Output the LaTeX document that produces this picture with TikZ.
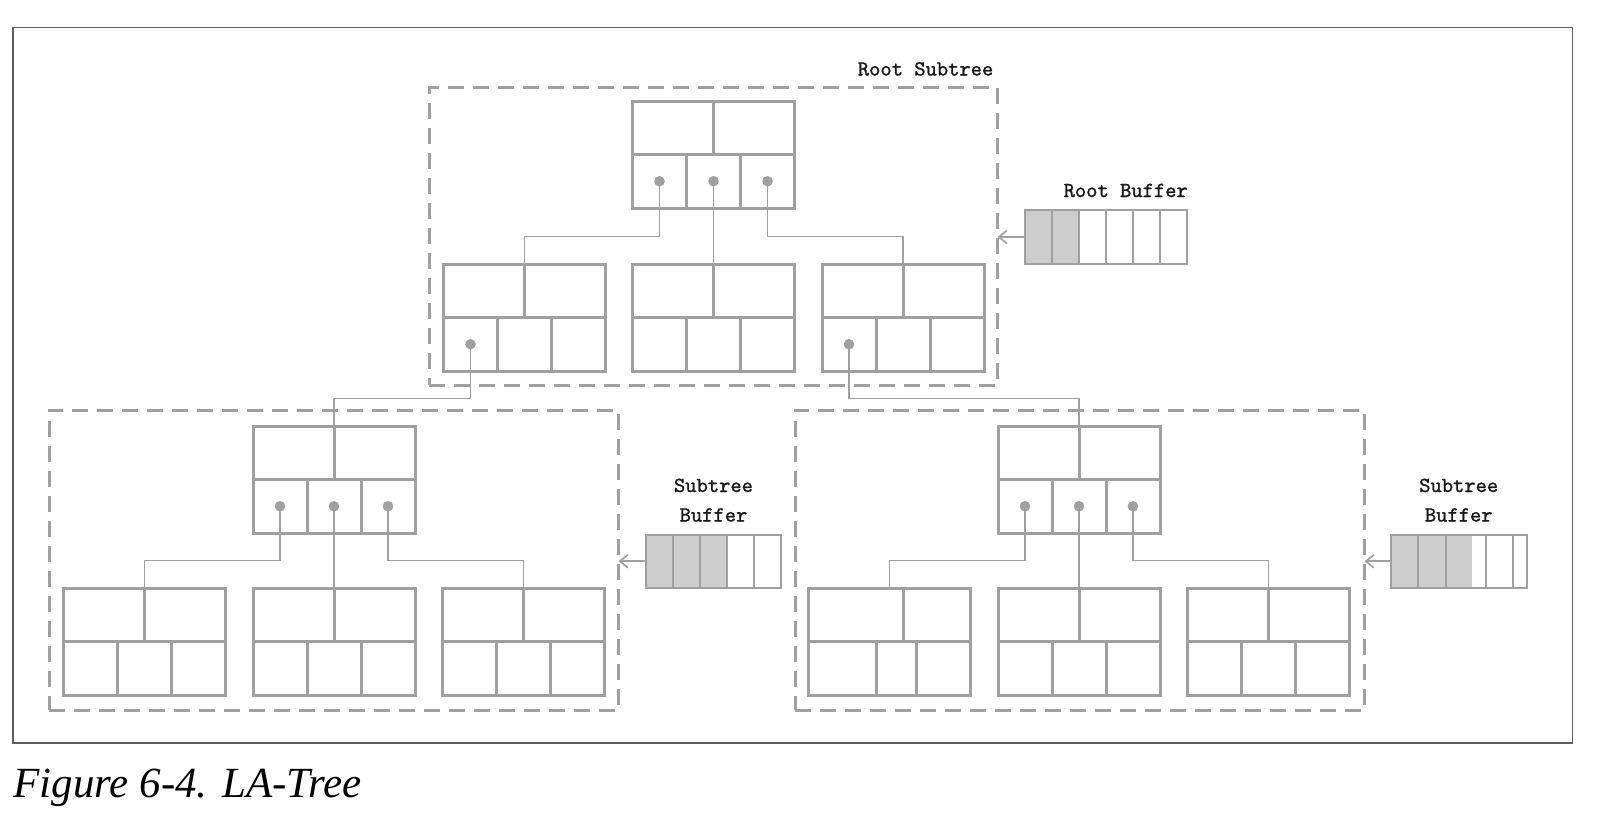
\documentclass[tikz,border=0pt]{standalone}
\usepackage{fontspec}
\newfontfamily\capfont{Liberation Serif}
\newfontfamily\lbltt{lmmono10-regular.otf}[FakeBold=1.1]
\usetikzlibrary{calc,arrows.meta}
\definecolor{lg}{RGB}{160,160,160}
\definecolor{bufgray}{RGB}{205,205,205}
\definecolor{framecol}{RGB}{95,95,95}
\definecolor{txt}{RGB}{25,25,25}
% B-tree node: name, x, y (top-left), top divider offset, bottom divider offsets
\newcommand\btnode[6]{%
  \node[bnode] (#1) at (#2,#3) {};
  \draw[bline] (#1.west) -- (#1.east);
  \draw[bline] ($(#1.north west)+(#4,0)$) -- ($(#1.west)+(#4,0)$);
  \draw[bline] ($(#1.west)+(#5,0)$) -- ($(#1.south west)+(#5,0)$);
  \draw[bline] ($(#1.west)+(#6,0)$) -- ($(#1.south west)+(#6,0)$);
  \coordinate (#1-p1) at ($(#1.south west)+(27,-26.75)$);
  \coordinate (#1-p2) at ($(#1.south west)+(81,-26.75)$);
  \coordinate (#1-p3) at ($(#1.south west)+(135,-26.75)$);
}
\begin{document}
\begin{tikzpicture}[x=1pt,y=-1pt,
  bnode/.style={draw=lg, line width=3pt, minimum width=162pt, minimum height=107pt,
    inner sep=0pt, outer sep=0pt, anchor=north west},
  bline/.style={draw=lg, line width=3pt},
  conn/.style={draw=lg, line width=1.7pt},
  dbox/.style={draw=lg, line width=3pt, dash pattern=on 16pt off 9pt,
    inner sep=0pt, outer sep=0pt, anchor=north west},
  bufn/.style={inner sep=0pt, outer sep=0pt, anchor=north west},
  bufline/.style={draw=lg, line width=2pt},
  arr/.style={draw=lg, line width=1.7pt, -{Straight Barb[length=8pt,width=13pt]}},
  lbl/.style={text=txt, font=\fontsize{21.5}{26}\selectfont\lbltt, inner sep=0pt},
  dot/.style={fill=lg}]
\useasboundingbox (0,0) rectangle (1598,830);
\fill[white] (0,0) rectangle (1598,830);
% outer frame
\draw[framecol, line width=1.5pt] (13.2,27.5) rectangle (1572.5,743);
% caption
\node[anchor=base west, inner sep=0pt, text=black, font=\fontsize{43}{50}\selectfont\capfont\itshape] (cap) at (13.3,797.5) {Figure 6-4. LA-Tree};

% dashed subtree boxes
\node[dbox, minimum width=568.5pt, minimum height=297.5pt] (rootsub) at (429,87.5) {};
\node[dbox, minimum width=569.5pt, minimum height=300pt] (lsub) at (49,410) {};
\node[dbox, minimum width=569.5pt, minimum height=300pt] (rsub) at (795,410) {};

% labels
\node[lbl, anchor=base east] (rstl) at (993.5,75.5) {Root Subtree};
\node[lbl, anchor=base east] (rbufl) at (1188,197) {Root Buffer};
\node[lbl, anchor=base] (lbufl1) at (713.5,492) {Subtree};
\node[lbl, anchor=base] (lbufl2) at (713.5,521.5) {Buffer};
\node[lbl, anchor=base] (rbufl1) at (1458.7,492) {Subtree};
\node[lbl, anchor=base] (rbufl2) at (1458.7,521.5) {Buffer};

% tree nodes
\btnode{R}{632.5}{101}{81}{54}{108}
\btnode{A}{443.5}{264}{81}{54}{108}
\btnode{B}{632.5}{264}{81}{54}{108}
\btnode{C}{822}{264}{81}{54}{108}
\btnode{LS}{253}{426}{81}{54}{108}
\btnode{RS}{998}{426}{81}{54}{108}
\btnode{L1}{63.5}{588}{81}{54}{108}
\btnode{L2}{253}{588}{81}{54}{108}
\btnode{L3}{442.5}{588}{81}{54}{108}
\btnode{M1}{808.5}{588}{95}{68}{108}
\btnode{M2}{998}{588}{81}{54}{108}
\btnode{M3}{1187.5}{588}{81}{54}{108}

% bend levels
\coordinate (b1) at (0,236.5);
\coordinate (b2) at (0,398.5);
\coordinate (b3) at (0,560.5);

% connectors
\draw[conn] (R-p1) -- (R-p1 |- b1) -| (A.north);
\draw[conn] (R-p2) -- (B.north);
\draw[conn] (R-p3) -- (R-p3 |- b1) -| (C.north);
\draw[conn] (A-p1) -- (A-p1 |- b2) -| (LS.north);
\draw[conn] (C-p1) -- (C-p1 |- b2) -| (RS.north);
\draw[conn] (LS-p1) -- (LS-p1 |- b3) -| (L1.north);
\draw[conn] (LS-p2) -- (L2.north);
\draw[conn] (LS-p3) -- (LS-p3 |- b3) -| (L3.north);
\draw[conn] (RS-p1) -- (RS-p1 |- b3) -| (M1.north);
\draw[conn] (RS-p2) -- (M2.north);
\draw[conn] (RS-p3) -- (RS-p3 |- b3) -| (M3.north);

% dots
\foreach \p in {R-p1,R-p2,R-p3,A-p1,C-p1,LS-p1,LS-p2,LS-p3,RS-p1,RS-p2,RS-p3}
  \fill[dot] (\p) circle[radius=5.3pt];

% root buffer
\node[bufn, minimum width=162pt, minimum height=54pt] (rbuf) at (1025,210) {};
\fill[bufgray] (rbuf.north west) rectangle ($(rbuf.south west)+(54,0)$);
\foreach \d in {27,54,81,108,135}
  \draw[bufline] ($(rbuf.north west)+(\d,0)$) -- ($(rbuf.south west)+(\d,0)$);
\draw[bufline] (rbuf.north west) rectangle (rbuf.south east);

% left subtree buffer
\node[bufn, minimum width=135pt, minimum height=53.5pt] (lbuf) at (646,534.5) {};
\fill[bufgray] (lbuf.north west) rectangle ($(lbuf.south west)+(81,0)$);
\foreach \d in {27,54,81,108}
  \draw[bufline] ($(lbuf.north west)+(\d,0)$) -- ($(lbuf.south west)+(\d,0)$);
\draw[bufline] (lbuf.north west) rectangle (lbuf.south east);

% right subtree buffer
\node[bufn, minimum width=135.5pt, minimum height=53.5pt] (rbuf2) at (1391,534.5) {};
\fill[bufgray] (rbuf2.north west) rectangle ($(rbuf2.south west)+(81.3,0)$);
\foreach \d in {27.3,54.7,94.7,122.3}
  \draw[bufline] ($(rbuf2.north west)+(\d,0)$) -- ($(rbuf2.south west)+(\d,0)$);
\draw[bufline] (rbuf2.north west) rectangle (rbuf2.south east);

% arrows buffer -> subtree
\draw[arr] (rbuf.west) -- (rbuf.west -| rootsub.east);
\draw[arr] (lbuf.west) -- (lbuf.west -| lsub.east);
\draw[arr] (rbuf2.west) -- (rbuf2.west -| rsub.east);
\end{tikzpicture}
\end{document}
